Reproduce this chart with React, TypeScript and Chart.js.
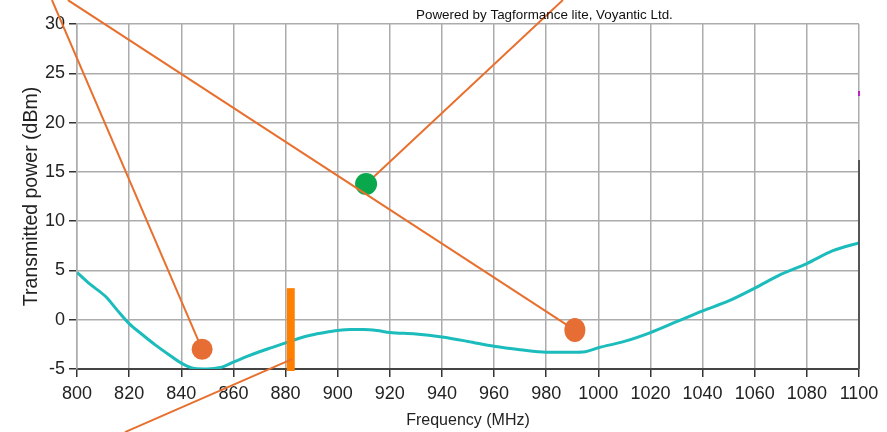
import React, { useEffect, useRef } from "react";
import { Chart, registerables } from "chart.js";

Chart.register(...registerables);

// ---- Data ----
const frequencyMHz = [
  800, 805, 811, 815, 820, 825, 830, 835, 840, 845, 850, 855, 860, 865, 870, 875, 880, 885, 890, 895,
  900, 905, 910, 915, 920, 930, 940, 950, 960, 970, 980, 990, 995, 1000, 1010, 1020, 1030, 1040,
  1050, 1060, 1070, 1080, 1090, 1100,
];
const transmittedPowerDbm = [
  4.8, 3.6, 2.35, 1.1, -0.4, -1.5, -2.55, -3.5, -4.4, -4.95, -5.0, -4.85, -4.3, -3.75, -3.25, -2.8, -2.35, -1.9, -1.55, -1.3,
  -1.1, -1.0, -1.0, -1.1, -1.3, -1.45, -1.75, -2.2, -2.7, -3.05, -3.3, -3.3, -3.25, -2.85, -2.2, -1.3, -0.2, 0.9,
  1.9, 3.2, 4.6, 5.7, 7.0, 7.8,
];
const xTickStep = 20;
const yTickStep = 5;
const xRange = [800, 1100];
const yRange = [-5, 30];

// Overlay annotations (in data units: MHz, dBm)
const pointerDots = [
  [848, -3.0],
  [991, -1.05],
];
const greenDot = [910.9, 13.77];
const lineToFirstDot = [[790.4, 32.43], [848, -3.0]];
const lineToSecondDot = [[796.5, 32.43], [991, -1.05]];
const lineFromGreenDot = [[910.9, 13.77], [986.4, 32.43]];
const lineToMarker = [[818.4, -11.4], [882.5, -4.0]];
const markerFreq = [882];
const markerSpan = [-5.2, 3.2];

const watermark = "Powered by Tagformance lite, Voyantic Ltd.";
const FONT = "'Liberation Sans', Arial, Helvetica, sans-serif";

export default function App() {
  const ref = useRef<HTMLCanvasElement | null>(null);

  useEffect(() => {
    document.body.style.margin = "0";
    document.body.style.background = "#ffffff";
    const canvas = ref.current;
    if (!canvas) return;

    const overlay = {
      id: "overlay",
      afterDatasetsDraw(chart: any) {
        const { ctx, scales, chartArea } = chart;
        const xs = scales.x;
        const ys = scales.y;
        const P = (p: number[]) => [xs.getPixelForValue(p[0]), ys.getPixelForValue(p[1])];
        ctx.save();

        // right frame line
        ctx.strokeStyle = "#555";
        ctx.lineWidth = 2;
        ctx.beginPath();
        ctx.moveTo(chartArea.right, ys.getPixelForValue(16.2));
        ctx.lineTo(chartArea.right, chartArea.bottom);
        ctx.stroke();
        ctx.strokeStyle = "#c020c0";
        ctx.beginPath();
        ctx.moveTo(chartArea.right, ys.getPixelForValue(23.2));
        ctx.lineTo(chartArea.right, ys.getPixelForValue(22.7));
        ctx.stroke();

        const seg = (s: number[][], color: string, w: number) => {
          const a = P(s[0]);
          const b = P(s[1]);
          ctx.strokeStyle = color;
          ctx.lineWidth = w;
          ctx.lineCap = "butt";
          ctx.beginPath();
          ctx.moveTo(a[0], a[1]);
          ctx.lineTo(b[0], b[1]);
          ctx.stroke();
        };
        const orange = "#e8702e";

        // marker bar
        const mx = xs.getPixelForValue(markerFreq[0]);
        const mt = ys.getPixelForValue(markerSpan[1]);
        const mb = ys.getPixelForValue(markerSpan[0]);
        ctx.fillStyle = "#ff7f00";
        ctx.fillRect(mx - 4, mt, 8, mb - mt);

        seg(lineFromGreenDot, orange, 2);
        const g = P(greenDot);
        ctx.fillStyle = "#0aa84c";
        ctx.beginPath();
        ctx.arc(g[0], g[1], 11, 0, Math.PI * 2);
        ctx.fill();

        seg(lineToFirstDot, orange, 2);
        seg(lineToSecondDot, orange, 2);
        seg(lineToMarker, orange, 2);

        ctx.fillStyle = "#e66e35";
        pointerDots.forEach((d, i) => {
          const p = P(d);
          ctx.beginPath();
          ctx.ellipse(p[0], p[1], 10.5, i === 1 ? 12 : 10.5, 0, 0, Math.PI * 2);
          ctx.fill();
        });

        ctx.restore();
      },
      afterDraw(chart: any) {
        const { ctx } = chart;
        ctx.save();
        ctx.fillStyle = "#111";
        ctx.font = `13.4px ${FONT}`;
        ctx.textAlign = "left";
        ctx.textBaseline = "middle";
        ctx.fillText(watermark, 416, 15);
        ctx.restore();
      },
    };

    const chart = new Chart(canvas, {
      type: "line",
      data: {
        datasets: [
          {
            data: frequencyMHz.map((f, i) => ({ x: f, y: transmittedPowerDbm[i] })),
            borderColor: "#1cbcbc",
            borderWidth: 3,
            pointRadius: 0,
            cubicInterpolationMode: "monotone",
            fill: false,
          },
        ],
      },
      options: {
        responsive: false,
        animation: false,
        layout: { padding: { top: 24, right: 28, left: 0, bottom: 0 } },
        plugins: { legend: { display: false }, tooltip: { enabled: false } },
        scales: {
          x: {
            type: "linear",
            min: xRange[0],
            max: xRange[1],
            ticks: {
              stepSize: xTickStep,
              autoSkip: false,
              maxRotation: 0,
              color: "#222",
              padding: 6,
              font: { family: FONT, size: 18 },
              callback: (v: any) => String(v),
            },
            grid: { color: "#acacac", lineWidth: 1.5, tickColor: "#333", tickLength: 8, tickWidth: 1.5 },
            border: { color: "#444", width: 2 },
            title: {
              display: true,
              text: "Frequency (MHz)",
              color: "#222",
              font: { family: FONT, size: 16 },
              padding: { top: 0, bottom: 2 },
            },
            afterFit: (s: any) => {
              s.height = 63;
            },
          },
          y: {
            type: "linear",
            min: yRange[0],
            max: yRange[1],
            ticks: {
              stepSize: yTickStep,
              color: "#222",
              padding: 4,
              font: { family: FONT, size: 18 },
              callback: (v: any) => String(v),
            },
            grid: { color: "#acacac", lineWidth: 1.5, tickColor: "#333", tickLength: 8, tickWidth: 1.5 },
            border: { color: "#acacac", width: 1.5 },
            title: {
              display: true,
              text: "Transmitted power (dBm)",
              color: "#222",
              font: { family: FONT, size: 19.5 },
              padding: { top: 20, bottom: 0 },
            },
            afterFit: (s: any) => {
              s.width = 77;
            },
          },
        },
      },
      plugins: [overlay],
    } as any);

    return () => chart.destroy();
  }, []);

  return (
    <div style={{ width: 887, height: 432, overflow: "hidden" }}>
      <canvas ref={ref} width={887} height={432} style={{ display: "block" }} />
    </div>
  );
}
